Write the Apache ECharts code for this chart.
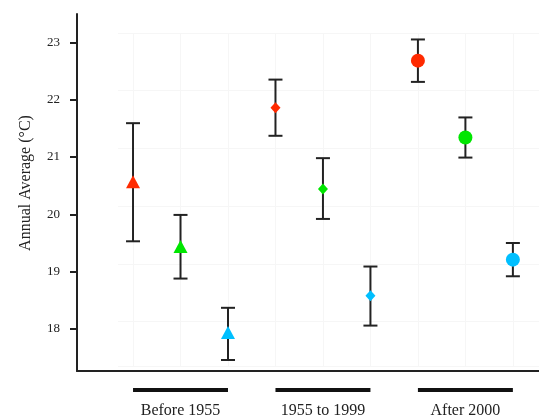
<!DOCTYPE html>
<html>
<head>
<meta charset="utf-8">
<script src="https://cdn.jsdelivr.net/npm/echarts@6/dist/echarts.min.js"></script>
<style>
html,body{margin:0;padding:0;background:#fff;}
#chart{width:539px;height:417px;}
</style>
</head>
<body>
<div id="chart"></div>
<script>
// ---- data ----
const periods = ['Before 1955', '1955 to 1999', 'After 2000'];
const periodSymbols = ['triangle', 'diamond', 'circle'];
const groupNames = ['Red', 'Green', 'Blue'];
const groupColors = ['#ff2a00', '#00e600', '#00bfff'];

const redMean   = [20.57, 21.86, 22.68];
const redLow    = [19.53, 21.37, 22.31];
const redHigh   = [21.59, 22.35, 23.05];

const greenMean = [19.44, 20.44, 21.34];
const greenLow  = [18.88, 19.92, 20.99];
const greenHigh = [19.99, 20.98, 21.69];

const blueMean  = [17.94, 18.58, 19.21];
const blueLow   = [17.46, 18.06, 18.92];
const blueHigh  = [18.37, 19.09, 19.50];

const yTicks = [18, 19, 20, 21, 22, 23];

// ---- build ----
const means = [redMean, greenMean, blueMean];
const lows = [redLow, greenLow, blueLow];
const highs = [redHigh, greenHigh, blueHigh];
const nGroups = groupNames.length;
const xPos = (p, g) => p * nGroups + g + 1;

const symbolSizes = { triangle: [14, 13], diamond: [10, 11], circle: [14, 14] };
const FONT = '"Liberation Serif", "DejaVu Serif", serif';

const errData = [];
periods.forEach((p, pi) => {
  groupNames.forEach((g, gi) => {
    errData.push([xPos(pi, gi), lows[gi][pi], highs[gi][pi]]);
  });
});

const periodData = periods.map((p, pi) => [xPos(pi, 0), xPos(pi, nGroups - 1), pi]);

const scatterSeries = groupNames.map((g, gi) => ({
  name: g,
  type: 'scatter',
  xAxisIndex: 0, yAxisIndex: 0,
  z: 5,
  data: periods.map((p, pi) => ({
    value: [xPos(pi, gi), means[gi][pi]],
    symbol: periodSymbols[pi],
    symbolSize: symbolSizes[periodSymbols[pi]]
  })),
  itemStyle: { color: groupColors[gi], opacity: 1 },
  emphasis: { disabled: true }
}));

const chart = echarts.init(document.getElementById('chart'), null, { renderer: 'canvas' });
chart.setOption({
  animation: false,
  backgroundColor: '#fff',
  grid: [
    { left: 77, right: 0, top: 14, bottom: 46 },
    { left: 118, right: 0, top: 33, height: 333 },
    { left: 133, width: 380, top: 33, height: 333 }
  ],
  xAxis: [
    {
      gridIndex: 0, type: 'value', min: -0.18, max: 9.55,
      axisLine: { show: true, onZero: false, lineStyle: { color: '#222', width: 2 } },
      axisTick: { show: false }, axisLabel: { show: false }, splitLine: { show: false }
    },
    {
      gridIndex: 1, type: 'value', min: 0, max: 1,
      axisLine: { show: false }, axisTick: { show: false }, axisLabel: { show: false }, splitLine: { show: false }
    },
    {
      gridIndex: 2, type: 'value', min: 0, max: 8, interval: 1,
      axisLine: { show: false }, axisTick: { show: false }, axisLabel: { show: false },
      splitLine: { show: true, lineStyle: { color: '#f6f6f6', width: 1 } }
    }
  ],
  yAxis: [
    {
      gridIndex: 0, type: 'value', min: 17.268, max: 23.494,
      name: 'Annual Average (°C)', nameLocation: 'middle', nameGap: 43,
      nameTextStyle: { fontFamily: FONT, fontSize: 16, color: '#222', padding: [0, 0, 0, 19] },
      axisLine: { show: true, onZero: false, lineStyle: { color: '#222', width: 2 } },
      axisTick: { show: true, length: 7, customValues: yTicks, lineStyle: { color: '#222', width: 2 } },
      axisLabel: { customValues: yTicks, margin: 17, fontFamily: FONT, fontSize: 13, color: '#222' },
      splitLine: { show: false }
    },
    {
      gridIndex: 1, type: 'value', inverse: true, min: 0, max: 5.77, interval: 1,
      axisLine: { show: false }, axisTick: { show: false }, axisLabel: { show: false },
      splitLine: { show: true, lineStyle: { color: '#f6f6f6', width: 1 } }
    },
    {
      gridIndex: 2, type: 'value', min: 0, max: 1,
      axisLine: { show: false }, axisTick: { show: false }, axisLabel: { show: false }, splitLine: { show: false }
    }
  ],
  series: [
    {
      type: 'custom',
      xAxisIndex: 0, yAxisIndex: 0,
      z: 3,
      data: errData,
      renderItem: function (params, api) {
        const x = api.value(0);
        const lo = api.coord([x, api.value(1)]);
        const hi = api.coord([x, api.value(2)]);
        const hw = 7;
        const st = { stroke: '#222', lineWidth: 2, fill: null };
        return {
          type: 'group',
          children: [
            { type: 'line', shape: { x1: lo[0], y1: lo[1], x2: hi[0], y2: hi[1] }, style: st },
            { type: 'line', shape: { x1: lo[0] - hw, y1: lo[1], x2: lo[0] + hw, y2: lo[1] }, style: st },
            { type: 'line', shape: { x1: hi[0] - hw, y1: hi[1], x2: hi[0] + hw, y2: hi[1] }, style: st }
          ]
        };
      }
    },
    {
      type: 'custom',
      xAxisIndex: 0, yAxisIndex: 0,
      clip: false,
      z: 3,
      data: periodData,
      renderItem: function (params, api) {
        const bottom = params.coordSys.y + params.coordSys.height;
        const a = api.coord([api.value(0), 20]);
        const b = api.coord([api.value(1), 20]);
        const yLine = bottom + 19;
        return {
          type: 'group',
          children: [
            { type: 'line', shape: { x1: a[0], y1: yLine, x2: b[0], y2: yLine },
              style: { stroke: '#111', lineWidth: 4 } },
            { type: 'text', x: (a[0] + b[0]) / 2, y: bottom + 40,
              style: { text: periods[api.value(2)], fontFamily: FONT, fontSize: 16, fill: '#222',
                       align: 'center', verticalAlign: 'middle' } }
          ]
        };
      }
    }
  ].concat(scatterSeries)
});
</script>
</body>
</html>
